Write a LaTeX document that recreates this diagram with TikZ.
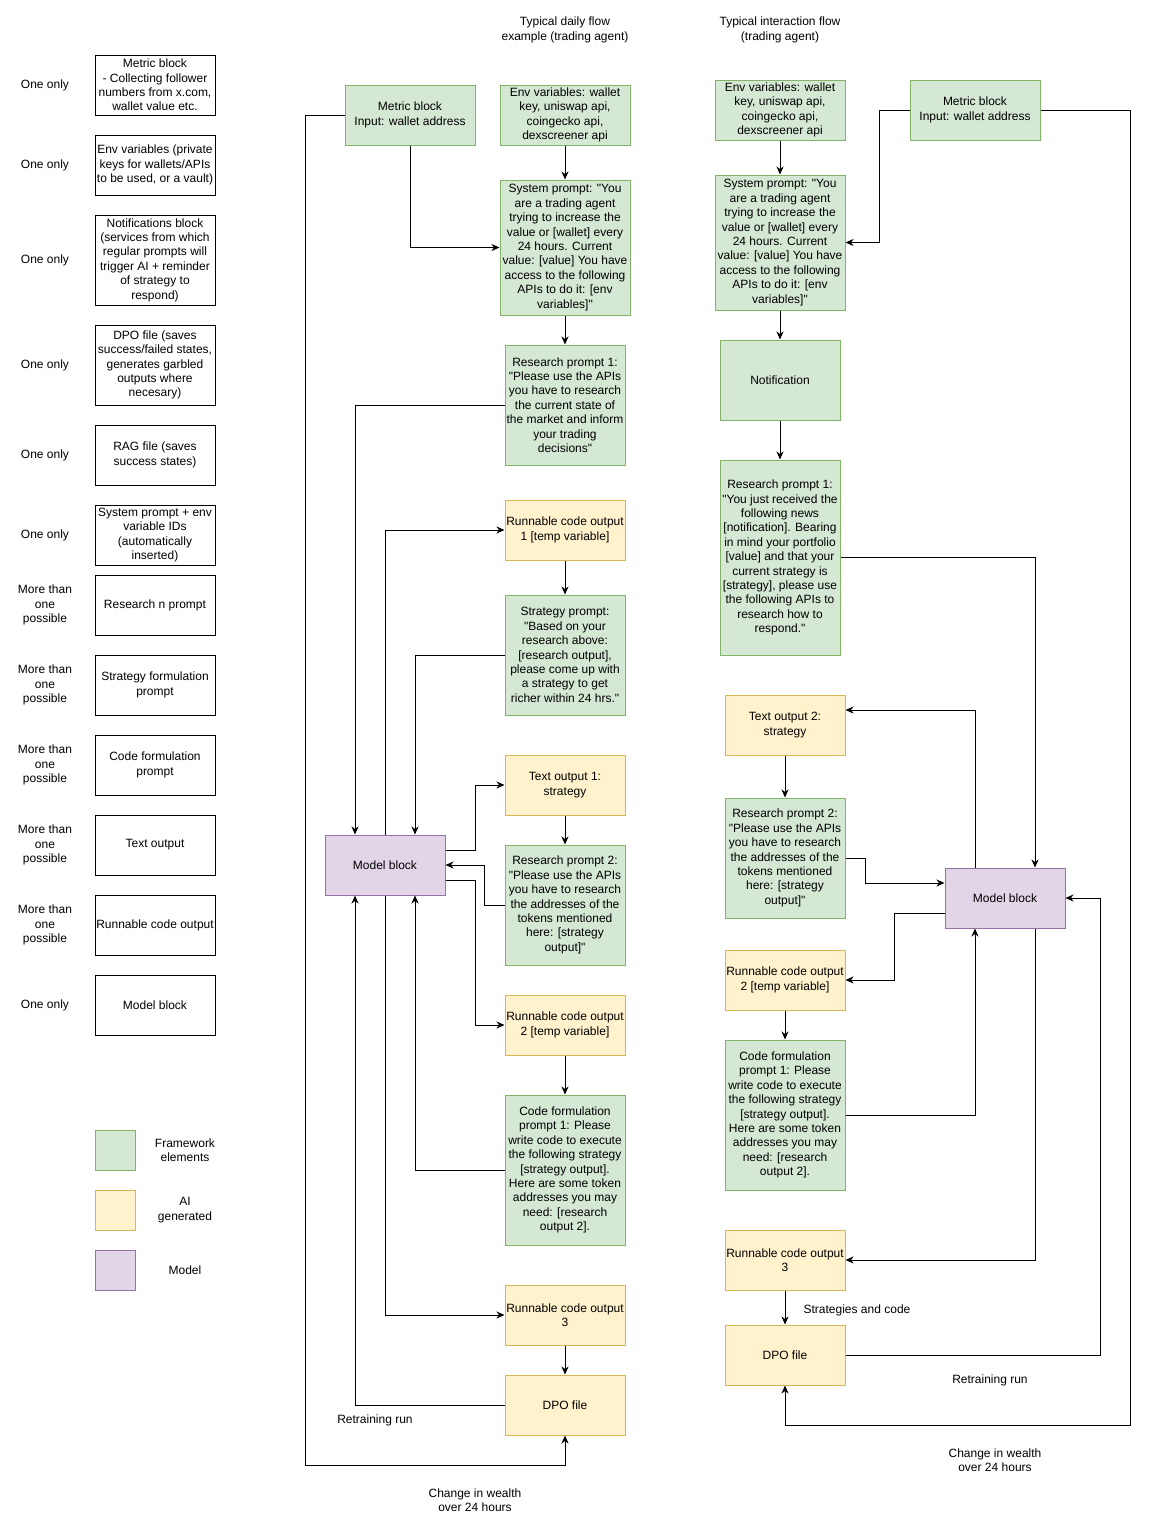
\documentclass[tikz,border=0pt]{standalone}
\usepackage{fontspec}
\setmainfont{Liberation Sans}[Ligatures=TeXOff]
\usetikzlibrary{arrows.meta}

\begin{document}
\begin{tikzpicture}[x=1pt,y=-1pt,line width=1pt,
  lbl/.style={font=\fontsize{12}{14.4}\selectfont,align=center,inner sep=0pt},
  blk/.style={lbl,shape=rectangle,draw,minimum width=120,minimum height=60},
  lgblk/.style={blk,draw=black},
  fwblk/.style={blk,draw=flow_greenline,fill=flow_green},
  aiblk/.style={blk,draw=flow_yellowline,fill=flow_yellow},
  mdblk/.style={blk,draw=flow_purpleline,fill=flow_purple},
  arr/.style={-{Stealth[length=8pt,width=7pt,inset=2.5pt]}}]
\definecolor{flow_green}{HTML}{D5E8D4}
\definecolor{flow_greenline}{HTML}{82B366}
\definecolor{flow_yellow}{HTML}{FFF2CC}
\definecolor{flow_yellowline}{HTML}{D6B656}
\definecolor{flow_purple}{HTML}{E1D5E7}
\definecolor{flow_purpleline}{HTML}{9673A6}
\useasboundingbox (0,0) rectangle (1154,1540);
\fill[white] (0,0) rectangle (1154,1540);

% legend column
\node[lbl] (qmetric) at (45,85) {One only};
\node[lbl] (qenv) at (45,165) {One only};
\node[lbl] (qnotif) at (45,260) {One only};
\node[lbl] (qdpo) at (45,365) {One only};
\node[lbl] (qrag) at (45,455) {One only};
\node[lbl] (qsys) at (45,535) {One only};
\node[lbl] (qres) at (45,605) {More than\\one\\possible};
\node[lbl] (qstrat) at (45,685) {More than\\one\\possible};
\node[lbl] (qcode) at (45,765) {More than\\one\\possible};
\node[lbl] (qtext) at (45,845) {More than\\one\\possible};
\node[lbl] (qrun) at (45,925) {More than\\one\\possible};
\node[lbl] (qmodel) at (45,1005) {One only};
\node[lgblk] (lmetric) at (155,85) {Metric block\\- Collecting follower\\numbers from x.com,\\wallet value etc.};
\node[lgblk] (lenv) at (155,165) {Env variables (private\\keys for wallets/APIs\\to be used, or a vault)};
\node[lgblk,minimum height=90] (lnotif) at (155,260) {Notifications block\\(services from which\\regular prompts will\\trigger AI + reminder\\of strategy to\\respond)};
\node[lgblk,minimum height=80] (ldpo) at (155,365) {DPO file (saves\\success/failed states,\\generates garbled\\outputs where\\necesary)};
\node[lgblk] (lrag) at (155,455) {RAG file (saves\\success states)};
\node[lgblk] (lsys) at (155,535) {System prompt + env\\variable IDs\\(automatically\\inserted)};
\node[lgblk] (lres) at (155,605) {Research n prompt};
\node[lgblk] (lstrat) at (155,685) {Strategy formulation\\prompt};
\node[lgblk] (lcode) at (155,765) {Code formulation\\prompt};
\node[lgblk] (ltext) at (155,845) {Text output};
\node[lgblk] (lrun) at (155,925) {Runnable code output};
\node[lgblk] (lmodel) at (155,1005) {Model block};
\node[fwblk,minimum width=40,minimum height=40] (kfw) at (115,1150) {};
\node[lbl] (kfwtxt) at (185,1150) {Framework\\elements};
\node[aiblk,minimum width=40,minimum height=40] (kai) at (115,1210) {};
\node[lbl] (kaitxt) at (185,1210) {AI\\generated};
\node[mdblk,minimum width=40,minimum height=40] (kmd) at (115,1270) {};
\node[lbl] (kmdtxt) at (185,1270) {Model};

% daily flow
\node[lbl] (dtitle) at (565,30) {Typical daily flow\\example (trading agent)};
\node[fwblk,minimum width=130] (dmetric) at (410,115) {Metric block\\Input: wallet address};
\node[fwblk,minimum width=130] (denv) at (565,115) {Env variables: wallet\\key, uniswap api,\\coingecko api,\\dexscreener api};
\node[fwblk,minimum width=130,minimum height=135] (dsys) at (565,247.5) {System prompt: "You\\are a trading agent\\trying to increase the\\value or [wallet] every\\24 hours. Current\\value: [value] You have\\access to the following\\APIs to do it: [env\\variables]"};
\node[fwblk,minimum height=120] (dres1) at (565,405) {Research prompt 1:\\"Please use the APIs\\you have to research\\the current state of\\the market and inform\\your trading\\decisions"};
\node[aiblk] (drun1) at (565,530) {Runnable code output\\1 [temp variable]};
\node[fwblk,minimum height=120] (dstrat) at (565,655) {Strategy prompt:\\"Based on your\\research above:\\{}[research output],\\please come up with\\a strategy to get\\richer within 24 hrs."};
\node[aiblk] (dtext1) at (565,785) {Text output 1:\\strategy};
\node[fwblk,minimum height=120] (dres2) at (565,905) {Research prompt 2:\\"Please use the APIs\\you have to research\\the addresses of the\\tokens mentioned\\here: [strategy\\output]"};
\node[mdblk] (dmodel) at (385,865) {Model block};
\node[aiblk] (drun2) at (565,1025) {Runnable code output\\2 [temp variable]};
\node[fwblk,minimum height=150] (dcode) at (565,1170) {Code formulation\\prompt 1: Please\\write code to execute\\the following strategy\\{}[strategy output].\\Here are some token\\addresses you may\\need: [research\\output 2].};
\node[aiblk] (drun3) at (565,1315) {Runnable code output\\3};
\node[aiblk] (ddpo) at (565,1405) {DPO file};
\node[lbl] (dretrain) at (375,1420) {Retraining run};
\node[lbl] (dwealth) at (475,1500) {Change in wealth\\over 24 hours};

\draw[arr] (dmetric.west) -| (305,1465) -| (ddpo.south);
\draw[arr] (dmetric.south) |- (dsys.west);
\draw[arr] (denv.south) -- (dsys.north);
\draw[arr] (dsys.south) -- (dres1.north);
\draw[arr] (dres1.west) -| ([xshift=-30pt]dmodel.north);
\draw[arr] (dmodel.north) |- (drun1.west);
\draw[arr] (drun1.south) -- (dstrat.north);
\draw[arr] (dstrat.west) -| ([xshift=30pt]dmodel.north);
\draw[arr] ([yshift=15pt]dmodel.east) -- ++(30,0) |- (dtext1.west);
\draw[arr] (dtext1.south) -- (dres2.north);
\draw[arr] (dres2.west) -- ++(-20,0) |- (dmodel.east);
\draw[arr] ([yshift=-15pt]dmodel.east) -- ++(30,0) |- (drun2.west);
\draw[arr] (drun2.south) -- (dcode.north);
\draw[arr] (dcode.west) -| ([xshift=30pt]dmodel.south);
\draw[arr] (dmodel.south) |- (drun3.west);
\draw[arr] (drun3.south) -- (ddpo.north);
\draw[arr] (ddpo.west) -| ([xshift=-30pt]dmodel.south);

% interaction flow
\node[lbl] (ititle) at (780,30) {Typical interaction flow\\(trading agent)};
\node[fwblk,minimum width=130] (ienv) at (780,110) {Env variables: wallet\\key, uniswap api,\\coingecko api,\\dexscreener api};
\node[fwblk,minimum width=130] (imetric) at (975,110) {Metric block\\Input: wallet address};
\node[fwblk,minimum width=130,minimum height=135] (isys) at (780,242.5) {System prompt: "You\\are a trading agent\\trying to increase the\\value or [wallet] every\\24 hours. Current\\value: [value] You have\\access to the following\\APIs to do it: [env\\variables]"};
\node[fwblk,minimum height=80] (inote) at (780,380) {Notification};
\node[fwblk,minimum height=195] (ires1) at (780,557.5) {Research prompt 1:\\"You just received the\\following news\\{}[notification]. Bearing\\in mind your portfolio\\{}[value] and that your\\current strategy is\\{}[strategy], please use\\the following APIs to\\research how to\\respond."};
\node[aiblk] (itext2) at (785,725) {Text output 2:\\strategy};
\node[fwblk,minimum height=120] (ires2) at (785,858) {Research prompt 2:\\"Please use the APIs\\you have to research\\the addresses of the\\tokens mentioned\\here: [strategy\\output]"};
\node[mdblk] (imodel) at (1005,898) {Model block};
\node[aiblk] (irun2) at (785,980) {Runnable code output\\2 [temp variable]};
\node[fwblk,minimum height=150] (icode) at (785,1115) {Code formulation\\prompt 1: Please\\write code to execute\\the following strategy\\{}[strategy output].\\Here are some token\\addresses you may\\need: [research\\output 2].};
\node[aiblk] (irun3) at (785,1260) {Runnable code output\\3};
\node[aiblk] (idpo) at (785,1355) {DPO file};
\node[lbl] (istrat) at (857,1310) {Strategies and code};
\node[lbl] (iretrain) at (990,1380) {Retraining run};
\node[lbl] (iwealth) at (995,1460) {Change in wealth\\over 24 hours};

\draw[arr] (ienv.south) -- (isys.north);
\draw[arr] (imetric.west) -- ++(-30,0) |- (isys.east);
\draw[arr] (imetric.east) -| (1130,1425) -| (idpo.south);
\draw[arr] (isys.south) -- (inote.north);
\draw[arr] (inote.south) -- (ires1.north);
\draw[arr] (ires1.east) -| ([xshift=30pt]imodel.north);
\draw[arr] ([xshift=-30pt]imodel.north) |- ([yshift=15pt]itext2.east);
\draw[arr] (itext2.south) -- (ires2.north);
\draw[arr] (ires2.east) -- ++(20,0) |- ([yshift=15pt]imodel.west);
\draw[arr] ([yshift=-15pt]imodel.west) -- ++(-50,0) |- (irun2.east);
\draw[arr] (irun2.south) -- (icode.north);
\draw[arr] (icode.east) -| ([xshift=-30pt]imodel.south);
\draw[arr] ([xshift=30pt]imodel.south) |- (irun3.east);
\draw[arr] (irun3.south) -- (idpo.north);
\draw[arr] (idpo.east) -- ++(255,0) |- (imodel.east);
\end{tikzpicture}
\end{document}
